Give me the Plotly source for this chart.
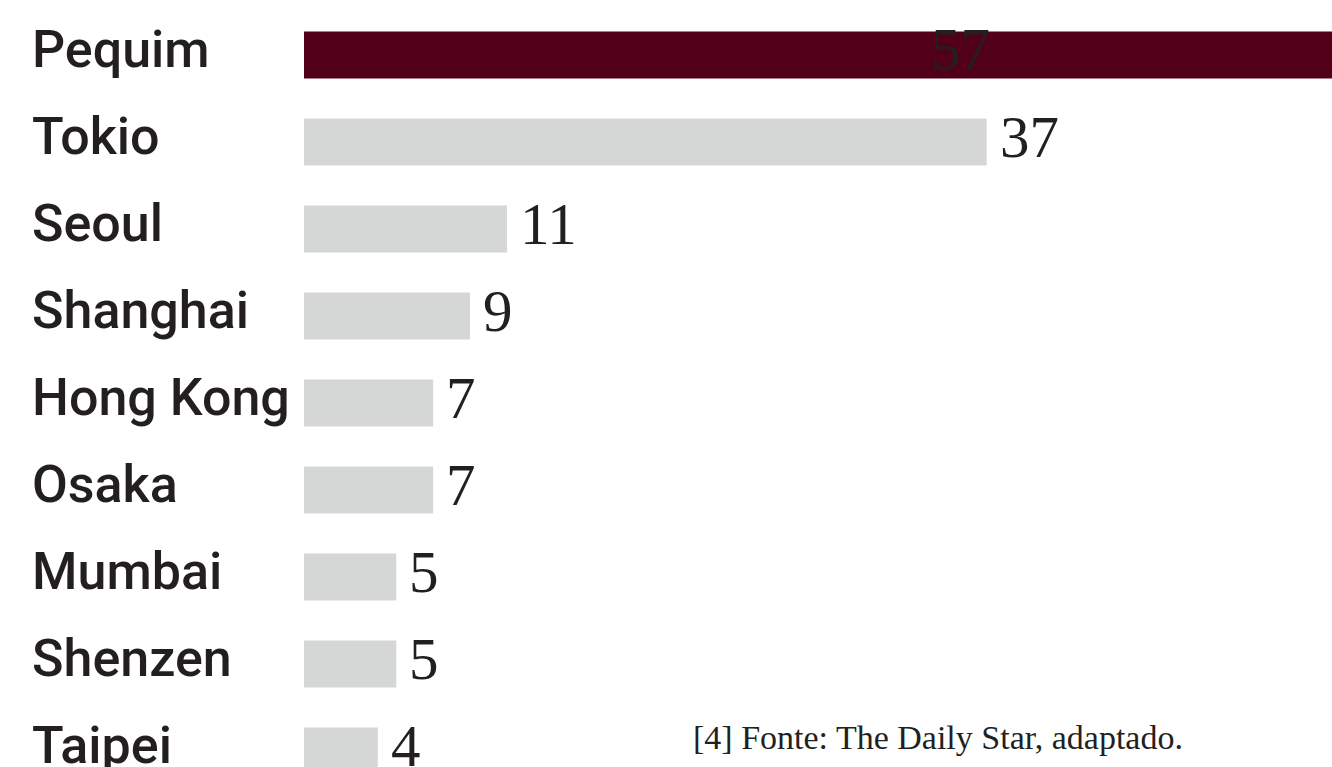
import plotly.graph_objects as go

# ---- data ----
cities = ["Pequim", "Tokio", "Seoul", "Shanghai", "Hong Kong", "Osaka", "Mumbai", "Shenzen", "Taipei"]
values = [57, 37, 11, 9, 7, 7, 5, 5, 4]
highlight = "Pequim"
source_note = "[4] Fonte: The Daily Star, adaptado."

# ---- style ----
DARK = "#520019"
GRAY = "#d5d7d6"
TEXT = "#231f20"
W, H = 1332, 767
L = 304
px_per_unit = 18.45
xmax = (W - L) / px_per_unit

colors = [DARK if c == highlight else GRAY for c in cities]

fig = go.Figure()
fig.add_trace(go.Bar(
    y=cities, x=values, orientation="h",
    marker=dict(color=colors, line=dict(width=0)),
    hoverinfo="skip",
))

annotations = []
# category labels, left aligned
for c in cities:
    annotations.append(dict(
        x=(30 - L) / (W - L), xref="paper", y=c, yref="y",
        text=c, showarrow=False, xanchor="left", yanchor="middle",
        font=dict(family="Roboto", size=52, color=TEXT, weight=500), yshift=5,
    ))
# value labels
for c, v in zip(cities, values):
    if v > xmax:
        annotations.append(dict(
            x=(960 - L) / px_per_unit, xref="x", y=c, yref="y",
            text=str(v), showarrow=False, xanchor="center", yanchor="middle",
            font=dict(family="Liberation Serif", size=59, color=TEXT), yshift=6,
        ))
    else:
        annotations.append(dict(
            x=v, xref="x", y=c, yref="y",
            text=str(v), showarrow=False, xanchor="left", yanchor="middle",
            font=dict(family="Liberation Serif", size=59, color=TEXT), xshift=11, yshift=5,
        ))
annotations.append(dict(
    x=(691 - L) / (W - L), xref="paper", y=1 - 737 / H, yref="paper",
    text=source_note, showarrow=False, xanchor="left", yanchor="middle",
    font=dict(family="Liberation Serif", size=34, color=TEXT),
))

fig.update_layout(
    width=W, height=H,
    margin=dict(l=L, r=0, t=0, b=0),
    paper_bgcolor="white", plot_bgcolor="white",
    bargap=0.46,
    showlegend=False,
    xaxis=dict(range=[0, xmax], visible=False, fixedrange=True),
    yaxis=dict(range=[8.184, -0.632], showticklabels=False, showgrid=False,
               zeroline=False, showline=False, ticks="", fixedrange=True),
    annotations=annotations,
)

fig.write_html("out.html", config={"displayModeBar": False})
